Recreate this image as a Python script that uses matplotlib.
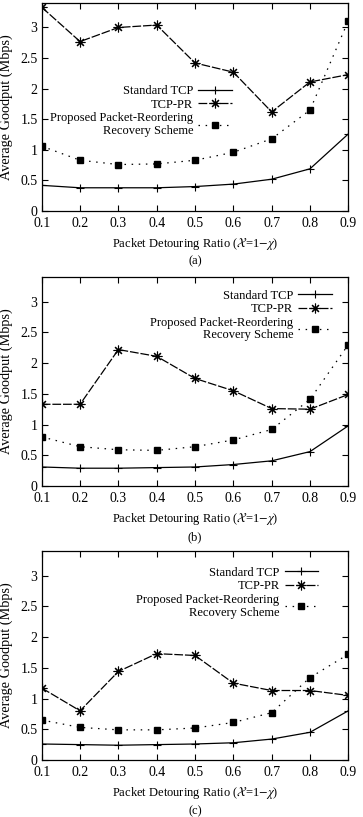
import numpy as np
import matplotlib
matplotlib.use('Agg')
import matplotlib.pyplot as plt

plt.rcParams['font.family'] = ['Liberation Serif', 'DejaVu Serif']
plt.rcParams['mathtext.fontset'] = 'stix'
plt.rcParams['font.size'] = 9

ratio = [0.1, 0.2, 0.3, 0.4, 0.5, 0.6, 0.7, 0.8, 0.9]

# panel (a)
std_a = [0.42, 0.38, 0.38, 0.38, 0.40, 0.44, 0.52, 0.69, 1.26]
pr_a = [3.33, 2.77, 3.00, 3.04, 2.42, 2.27, 1.62, 2.11, 2.23]
prop_a = [1.06, 0.83, 0.76, 0.77, 0.83, 0.96, 1.18, 1.65, 3.11]

# panel (b)
std_b = [0.31, 0.29, 0.29, 0.30, 0.31, 0.35, 0.41, 0.56, 0.98]
pr_b = [1.33, 1.33, 2.22, 2.11, 1.75, 1.55, 1.26, 1.25, 1.49]
prop_b = [0.80, 0.64, 0.59, 0.58, 0.64, 0.75, 0.92, 1.41, 2.30]

# panel (c)
std_c = [0.26, 0.25, 0.24, 0.25, 0.26, 0.28, 0.34, 0.45, 0.80]
pr_c = [1.17, 0.80, 1.44, 1.73, 1.70, 1.25, 1.13, 1.13, 1.05]
prop_c = [0.65, 0.53, 0.49, 0.49, 0.52, 0.61, 0.77, 1.34, 1.72]

labels = ['Standard TCP', 'TCP-PR', 'Proposed Packet-Reordering\nRecovery Scheme']
captions = ['(a)', '(b)', '(c)']
yticks = [0, 0.5, 1, 1.5, 2, 2.5, 3]
yticklabels = ['0', '0.5', '1', '1.5', '2', '2.5', '3']

fig = plt.figure(figsize=(3.63, 8.17), dpi=100)

# axes rectangles and legend anchors for each panel
rects = [[0.115, 0.7417, 0.8445, 0.2546],
         [0.115, 0.4051, 0.8445, 0.2558],
         [0.115, 0.0698, 0.8445, 0.2558]]
anchors = [(0.62, 0.605), (0.947, 0.94), (0.902, 0.925)]
panels = [(std_a, pr_a, prop_a), (std_b, pr_b, prop_b), (std_c, pr_c, prop_c)]

for rect, anchor, (std, pr, prop), cap in zip(rects, anchors, panels, captions):
    ax = fig.add_axes(rect)
    ax.plot(ratio, std, color='black', lw=0.9, marker='+', ms=6, mew=0.8, label=labels[0])
    ax.plot(ratio, pr, color='black', lw=0.9, dashes=(7, 1.5), marker=(8, 2, 0), ms=7, mew=0.8,
            label=labels[1])
    ax.plot(ratio, prop, color='black', lw=0.9, dashes=(1.2, 4.5), marker='s', ms=5, label=labels[2])

    ax.set_xlim(0.1, 0.9)
    ax.set_ylim(0, 3.4)
    ax.set_xticks(ratio)
    ax.set_xticklabels(['{:.1f}'.format(v) for v in ratio])
    ax.set_yticks(yticks)
    ax.set_yticklabels(yticklabels)
    ax.tick_params(direction='in', top=True, right=True, length=4, width=0.8, labelsize=10)
    ax.tick_params(axis='x', pad=4.5)
    ax.tick_params(axis='y', pad=3)
    for s in ax.spines.values():
        s.set_linewidth(0.9)

    ax.set_ylabel('Average Goodput (Mbps)', fontsize=10.3)
    ax.yaxis.set_label_coords(-0.094, 0.5)
    ax.set_xlabel(r'Packet Detouring Ratio ($\mathcal{X}$=1$-\chi$)', labelpad=4)
    ax.text(0.5, -0.215, cap, transform=ax.transAxes, ha='center', va='top')

    leg = ax.legend(loc='upper right', bbox_to_anchor=anchor, frameon=False, markerfirst=False,
                    borderpad=0, borderaxespad=0, handlelength=2.7, handletextpad=0.4,
                    labelspacing=0.12)
    for t in leg.get_texts():
        t.set_multialignment('right')
        t.set_linespacing(1.1)

plt.savefig('out.png', dpi=100)
